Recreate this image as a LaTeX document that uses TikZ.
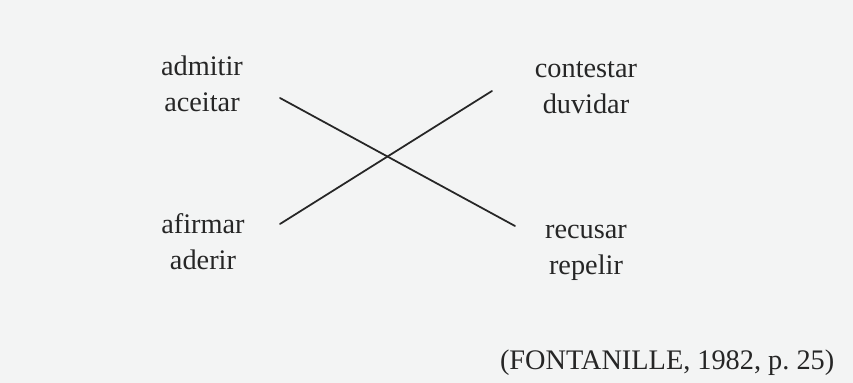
\documentclass[tikz,border=0pt]{standalone}
\usepackage{fontspec}
\setmainfont{Liberation Serif}
\definecolor{paper}{HTML}{F3F4F4}
\definecolor{ink}{HTML}{262626}

\begin{document}
\begin{tikzpicture}[x=0.01cm, y=-0.01cm, font=\fontsize{8.05}{10.3}\selectfont,
    line cap=round, line join=round]
  \tikzset{verb/.style={align=center, anchor=base, inner sep=0pt, text=ink},
           cross/.style={ink, line width=0.5pt}}
  % ---------- paper ----------
  \fill[paper] (0,0) rectangle (853,383);
  \useasboundingbox (0,0) rectangle (853,383);

  % ---------- the four pairs (base = last line) ----------
  \node[verb] (admitir)   at (202,112) {admitir\\aceitar};
  \node[verb] (contestar) at (586,114) {contestar\\duvidar};
  \node[verb] (afirmar)   at (203,270) {afirmar\\aderir};
  \node[verb] (recusar)   at (586,275) {recusar\\repelir};

  % ---------- crossing lines ----------
  \coordinate (p1) at (280,98);
  \coordinate (p2) at (515,226);
  \coordinate (q1) at (280,224);
  \coordinate (q2) at (492,91);
  \draw[cross] (p1) -- (p2);
  \draw[cross] (q1) -- (q2);

  % ---------- source ----------
  \node[verb, anchor=base east] (fonte) at (835,370) {(FONTANILLE, 1982, p.~25)};
\end{tikzpicture}
\end{document}
